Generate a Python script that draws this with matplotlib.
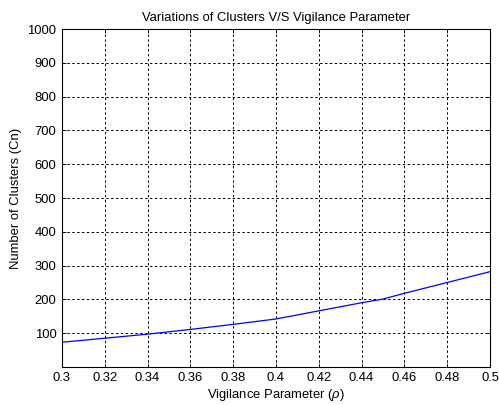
import numpy as np
import matplotlib
matplotlib.use("Agg")
import matplotlib.pyplot as plt

plt.rcParams['font.family'] = ['Liberation Sans', 'DejaVu Sans']
plt.rcParams['mathtext.fontset'] = 'custom'
plt.rcParams['mathtext.it'] = 'Liberation Sans:italic'

# Vigilance parameter vs. number of clusters
rho = [0.30, 0.34, 0.36, 0.38, 0.40, 0.42, 0.44, 0.45, 0.46, 0.48, 0.50]
clusters = [73, 97, 111, 126, 142, 166, 190, 201, 218, 250, 282]

x_ticks = [0.3, 0.32, 0.34, 0.36, 0.38, 0.4, 0.42, 0.44, 0.46, 0.48, 0.5]
x_tick_labels = ['0.3', '0.32', '0.34', '0.36', '0.38', '0.4', '0.42', '0.44', '0.46', '0.48', '0.5']
y_ticks = [100, 200, 300, 400, 500, 600, 700, 800, 900, 1000]

fs = 9.4

fig = plt.figure(figsize=(4.99, 4.05), dpi=100)
ax = fig.add_axes([0.124, 0.094, 0.858, 0.834])

ax.plot(rho, clusters, color='#0000ff', linewidth=0.9)

ax.set_xlim(0.3, 0.5)
ax.set_ylim(0, 1000)
ax.set_xticks(x_ticks)
ax.set_xticklabels(x_tick_labels)
ax.set_yticks(y_ticks)

ax.grid(True, color='black', linestyle=(0, (2.5, 2.5)), linewidth=0.7)
ax.tick_params(direction='in', length=3, width=0.6, labelsize=fs,
               top=True, right=True, pad=4)
for s in ax.spines.values():
    s.set_linewidth(0.8)

ax.set_title('Variations of Clusters V/S Vigilance Parameter', fontsize=fs, pad=6)
ax.set_xlabel(r'Vigilance Parameter ($\rho$)', fontsize=fs, labelpad=2)
ax.set_ylabel('Number of Clusters (Cn)', fontsize=fs, labelpad=4)

fig.savefig('out.png', dpi=100)
